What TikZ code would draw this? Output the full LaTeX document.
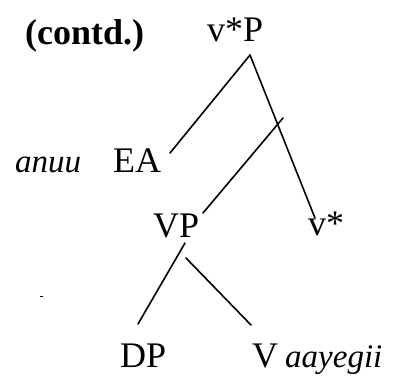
\documentclass[tikz,border=0pt]{standalone}
\usepackage{fontspec}
\setmainfont{Liberation Serif}[ItalicFont={Liberation Serif Italic},BoldFont={Liberation Serif Bold}]
\begin{document}
\begin{tikzpicture}[x=1pt,y=-1pt,
  lab/.style={inner sep=0pt, anchor=base west, font=\fontsize{36}{40}\selectfont},
  ital/.style={inner sep=0pt, anchor=base west, font=\fontsize{33}{38}\selectfont\itshape},
  branch/.style={line width=1.6pt, line cap=round}]
\useasboundingbox (0,0) rectangle (394,376);
\node[lab, font=\fontsize{36}{40}\selectfont\bfseries] (contd) at (25,44) {(contd.)};
\node[lab] (vsP) at (207,41) {v*P};
\node[ital] (anuu) at (15,172) {anuu};
\node[lab] (EA) at (113,172) {EA};
\node[lab] (VP) at (153,237) {VP};
\node[lab] (vs) at (308,235) {v*};
\node[lab] (DP) at (120,367) {DP};
\node[lab] (V) at (252,367) {V};
\node[ital] (aay) at (285,367) {aayegii};
% line ends
\coordinate (apex) at (250,55);
\coordinate (eaTop) at (170,153);
\coordinate (vsTop) at (315,218);
\coordinate (cross) at (283,118);
\coordinate (vpTopR) at (203,213);
\coordinate (vpBotL) at (185,243);
\coordinate (vpBotR) at (186,258);
\coordinate (dpTop) at (138,324);
\coordinate (vTop) at (251,325);
\draw[branch] (apex) -- (eaTop);
\draw[branch] (apex) -- (vsTop);
\draw[branch] (cross) -- (vpTopR);
\draw[branch] (vpBotL) -- (dpTop);
\draw[branch] (vpBotR) -- (vTop);
\coordinate (dotA) at (40,296);
\coordinate (dotB) at (43,296);
\draw[line width=1pt] (dotA) -- (dotB);
\end{tikzpicture}
\end{document}
